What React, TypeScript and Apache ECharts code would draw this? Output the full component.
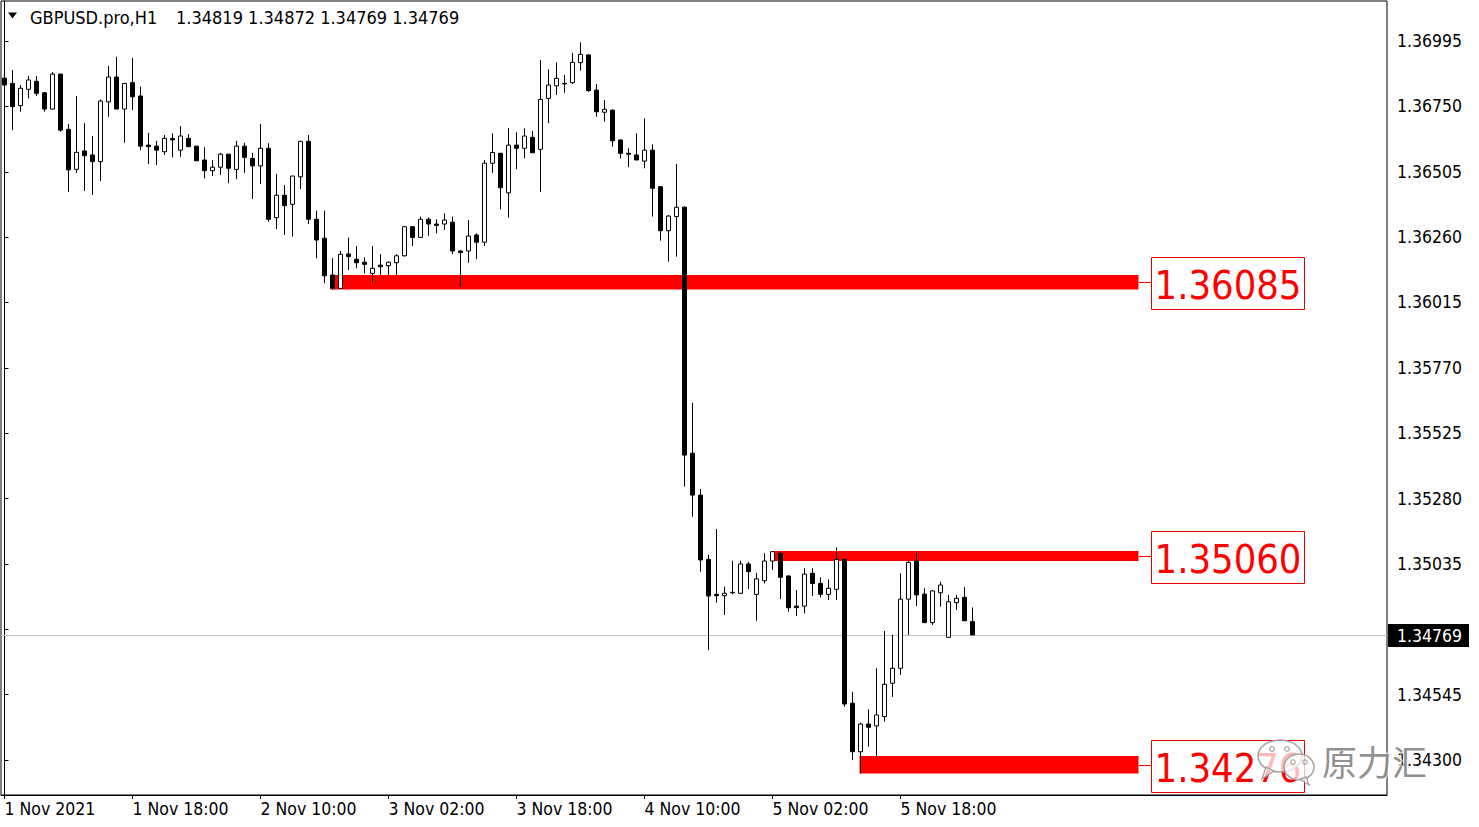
import React, { useEffect, useRef } from "react";
import * as echarts from "echarts";

const symbolName = "GBPUSD.pro,H1";

const opens = [
  1.36856, 1.36836, 1.36753, 1.36814, 1.36844, 1.36801, 1.36740, 1.36871, 1.36664, 1.36514,
  1.36583, 1.36568, 1.36543, 1.36767, 1.36860, 1.36740, 1.36839, 1.36789, 1.36605, 1.36601,
  1.36580, 1.36630, 1.36586, 1.36630, 1.36601, 1.36549, 1.36509, 1.36522, 1.36571, 1.36514,
  1.36601, 1.36555, 1.36527, 1.36593, 1.36333, 1.36417, 1.36383, 1.36486, 1.36619, 1.36327,
  1.36256, 1.36118, 1.36068, 1.36197, 1.36177, 1.36166, 1.36124, 1.36155, 1.36153, 1.36164,
  1.36190, 1.36299, 1.36259, 1.36327, 1.36309, 1.36309, 1.36316, 1.36208, 1.36208, 1.36268,
  1.36241, 1.36537, 1.36574, 1.36426, 1.36605, 1.36593, 1.36634, 1.36589, 1.36780, 1.36827,
  1.36836, 1.36839, 1.36914, 1.36943, 1.36811, 1.36728, 1.36736, 1.36624, 1.36574, 1.36568,
  1.36545, 1.36586, 1.36449, 1.36284, 1.36337, 1.36372, 1.35450, 1.35293, 1.35052, 1.34921,
  1.34916, 1.34927, 1.34925, 1.35035, 1.34921, 1.34972, 1.35046, 1.35075, 1.34990, 1.34877,
  1.34877, 1.35000, 1.34962, 1.34921, 1.34940, 1.35052, 1.34513, 1.34331, 1.34435, 1.34428,
  1.34463, 1.34588, 1.34644, 1.34903, 1.35047, 1.34922, 1.34815, 1.34927, 1.34760, 1.34890,
  1.34910, 1.34819,
];

const highs = [
  1.36886, 1.36886, 1.36830, 1.36864, 1.36864, 1.36803, 1.36879, 1.36873, 1.36684, 1.36789,
  1.36687, 1.36639, 1.36776, 1.36902, 1.36936, 1.36838, 1.36932, 1.36824, 1.36651, 1.36621,
  1.36643, 1.36649, 1.36676, 1.36646, 1.36601, 1.36597, 1.36549, 1.36576, 1.36571, 1.36621,
  1.36614, 1.36576, 1.36684, 1.36612, 1.36497, 1.36455, 1.36489, 1.36621, 1.36643, 1.36359,
  1.36359, 1.36181, 1.36208, 1.36258, 1.36227, 1.36184, 1.36227, 1.36196, 1.36168, 1.36196,
  1.36301, 1.36301, 1.36337, 1.36334, 1.36327, 1.36349, 1.36337, 1.36210, 1.36324, 1.36274,
  1.36549, 1.36649, 1.36576, 1.36668, 1.36653, 1.36668, 1.36658, 1.36924, 1.36889, 1.36915,
  1.36868, 1.36951, 1.36990, 1.36945, 1.36834, 1.36774, 1.36738, 1.36626, 1.36593, 1.36649,
  1.36705, 1.36608, 1.36451, 1.36343, 1.36534, 1.36375, 1.35639, 1.35316, 1.35069, 1.35166,
  1.34950, 1.35047, 1.35047, 1.35043, 1.35002, 1.35075, 1.35083, 1.35081, 1.34992, 1.34937,
  1.35019, 1.35019, 1.34985, 1.34977, 1.35097, 1.35054, 1.34556, 1.34440, 1.34490, 1.34644,
  1.34784, 1.34769, 1.35000, 1.35047, 1.35077, 1.34944, 1.34937, 1.34968, 1.34919, 1.34919,
  1.34948, 1.34872,
];

const lows = [
  1.36811, 1.36661, 1.36730, 1.36780, 1.36789, 1.36730, 1.36738, 1.36655, 1.36430, 1.36501,
  1.36433, 1.36418, 1.36470, 1.36711, 1.36740, 1.36614, 1.36736, 1.36586, 1.36534, 1.36530,
  1.36568, 1.36559, 1.36561, 1.36599, 1.36546, 1.36480, 1.36489, 1.36493, 1.36462, 1.36477,
  1.36501, 1.36403, 1.36459, 1.36318, 1.36290, 1.36268, 1.36262, 1.36440, 1.36309, 1.36181,
  1.36087, 1.36062, 1.36066, 1.36137, 1.36143, 1.36124, 1.36089, 1.36118, 1.36118, 1.36118,
  1.36187, 1.36227, 1.36258, 1.36265, 1.36274, 1.36287, 1.36196, 1.36074, 1.36164, 1.36177,
  1.36227, 1.36501, 1.36364, 1.36333, 1.36514, 1.36555, 1.36576, 1.36430, 1.36687, 1.36793,
  1.36801, 1.36834, 1.36884, 1.36805, 1.36711, 1.36693, 1.36599, 1.36555, 1.36522, 1.36549,
  1.36518, 1.36337, 1.36247, 1.36168, 1.36187, 1.35325, 1.35212, 1.35006, 1.34712, 1.34890,
  1.34844, 1.34921, 1.34923, 1.34941, 1.34822, 1.34962, 1.35012, 1.34903, 1.34856, 1.34840,
  1.34850, 1.34915, 1.34909, 1.34900, 1.34900, 1.34500, 1.34300, 1.34250, 1.34350, 1.34307,
  1.34444, 1.34537, 1.34619, 1.34769, 1.34877, 1.34815, 1.34806, 1.34875, 1.34758, 1.34862,
  1.34822, 1.34769,
];

const closes = [
  1.36830, 1.36749, 1.36818, 1.36849, 1.36799, 1.36740, 1.36871, 1.36661, 1.36512, 1.36578,
  1.36565, 1.36543, 1.36770, 1.36860, 1.36740, 1.36836, 1.36786, 1.36601, 1.36599, 1.36586,
  1.36630, 1.36624, 1.36639, 1.36599, 1.36546, 1.36509, 1.36522, 1.36571, 1.36518, 1.36601,
  1.36559, 1.36527, 1.36593, 1.36327, 1.36417, 1.36378, 1.36489, 1.36619, 1.36327, 1.36249,
  1.36115, 1.36068, 1.36196, 1.36187, 1.36164, 1.36158, 1.36143, 1.36149, 1.36166, 1.36190,
  1.36299, 1.36259, 1.36327, 1.36309, 1.36304, 1.36324, 1.36208, 1.36202, 1.36264, 1.36241,
  1.36537, 1.36577, 1.36445, 1.36605, 1.36593, 1.36639, 1.36576, 1.36776, 1.36830, 1.36855,
  1.36834, 1.36915, 1.36945, 1.36809, 1.36730, 1.36739, 1.36621, 1.36574, 1.36571, 1.36549,
  1.36586, 1.36443, 1.36284, 1.36339, 1.36372, 1.35443, 1.35293, 1.35050, 1.34915, 1.34916,
  1.34925, 1.34929, 1.35035, 1.35006, 1.34979, 1.35046, 1.35081, 1.34985, 1.34871, 1.34871,
  1.34997, 1.34962, 1.34921, 1.34944, 1.35052, 1.34510, 1.34331, 1.34435, 1.34423, 1.34469,
  1.34584, 1.34644, 1.34903, 1.35041, 1.34919, 1.34815, 1.34934, 1.34956, 1.34893, 1.34906,
  1.34822, 1.34769,
];

// x axis: bar index of each time label
const timeTickBars = [0, 16, 32, 48, 64, 80, 96, 112];
const timeTickLabels = [
  "1 Nov 2021",
  "1 Nov 18:00",
  "2 Nov 10:00",
  "3 Nov 02:00",
  "3 Nov 18:00",
  "4 Nov 10:00",
  "5 Nov 02:00",
  "5 Nov 18:00",
];

const priceTicks = [
  1.36995, 1.3675, 1.36505, 1.3626, 1.36015, 1.3577, 1.35525, 1.3528, 1.35035, 1.3479, 1.34545, 1.343,
];

// horizontal levels (red zones)
const levelValues = [1.36085, 1.3506, 1.34276];
const levelTops = [1.36118, 1.35084, 1.34315];
const levelBottoms = [1.36064, 1.35046, 1.3425];
const levelStartBars = [40.75, 96.125, 106.875];
const levelEndBar = 141.75;

const watermarkText = "原力汇";

const FONT = "'DejaVu Sans Condensed', 'Liberation Sans', sans-serif";

export default function App() {
  const ref = useRef<HTMLDivElement>(null);

  useEffect(() => {
    if (!ref.current) return;
    const chart = echarts.init(ref.current, null, { renderer: "svg" });
    const n = opens.length;
    const candles = opens.map((o, i) => [i, o, closes[i], lows[i], highs[i]]);
    const lastClose = closes[n - 1];
    const bands = levelValues.map((v, i) => [levelStartBars[i], levelEndBar, levelTops[i], levelBottoms[i], v]);
    // the label of the tick hidden under the current-price box is not shown
    const priceLabelTicks = priceTicks.filter((v) => Math.abs(v - lastClose) > 0.0005);

    const option: any = {
      animation: false,
      backgroundColor: "#ffffff",
      grid: {
        left: 1,
        top: 1,
        width: 1386,
        height: 794,
        show: true,
        borderColor: "#000000",
        borderWidth: 1,
        backgroundColor: "#ffffff",
      },
      xAxis: {
        type: "value",
        min: -0.4375,
        max: 172.8125,
        splitLine: { show: false },
        axisLine: { show: true, lineStyle: { color: "#000000" } },
        axisTick: { show: true, customValues: timeTickBars, length: 4, lineStyle: { color: "#000000" } },
        axisLabel: {
          customValues: timeTickBars,
          formatter: (v: number) => {
            const k = timeTickBars.indexOf(Math.round(v));
            return k >= 0 ? timeTickLabels[k] : "";
          },
          align: "left",
          margin: 5,
          color: "#000000",
          fontFamily: FONT,
          fontSize: 17.5,
        },
      },
      yAxis: {
        type: "value",
        position: "right",
        min: 1.34169,
        max: 1.37145,
        splitLine: { show: false },
        axisLine: { show: true, lineStyle: { color: "#000000" } },
        axisTick: { show: true, customValues: priceTicks, length: 4, lineStyle: { color: "#000000" } },
        axisLabel: {
          customValues: priceLabelTicks,
          formatter: (v: number) => v.toFixed(5),
          margin: 10,
          color: "#000000",
          fontFamily: FONT,
          fontSize: 17.5,
        },
      },
      series: [
        {
          type: "custom",
          z: 1,
          clip: false,
          silent: true,
          data: bands,
          encode: { x: [0, 1], y: [2, 3] },
          renderItem: (params: any, api: any) => {
            const p0 = api.coord([api.value(0), api.value(2)]);
            const p1 = api.coord([api.value(1), api.value(3)]);
            const level = api.value(4) as number;
            const cy = Math.round((p0[1] + p1[1]) / 2) + 0.5;
            const endX = Math.round(p1[0]);
            const boxX = endX + 12.5;
            const boxW = 153;
            const boxH = 52;
            return {
              type: "group",
              children: [
                {
                  type: "rect",
                  shape: { x: p0[0], y: p0[1], width: p1[0] - p0[0], height: p1[1] - p0[1] },
                  style: { fill: "#ff0000" },
                },
                {
                  type: "line",
                  shape: { x1: endX, y1: cy, x2: boxX, y2: cy },
                  style: { stroke: "#ff0000", lineWidth: 1 },
                },
                {
                  type: "rect",
                  shape: { x: boxX, y: Math.round(cy - boxH / 2) + 0.5, width: boxW, height: boxH },
                  style: { fill: "#ffffff", stroke: "#e60000", lineWidth: 1 },
                },
                {
                  type: "text",
                  x: boxX + boxW / 2,
                  y: cy + 2,
                  style: {
                    text: level.toFixed(5),
                    fill: "#ff0000",
                    font: `39.5px ${FONT}`,
                    align: "center",
                    verticalAlign: "middle",
                  },
                },
              ],
            };
          },
        },
        {
          type: "custom",
          z: 2,
          silent: true,
          data: [[0, lastClose]],
          encode: { x: 0, y: 1 },
          renderItem: (params: any, api: any) => {
            const cs = params.coordSys;
            const y = Math.round(api.coord([api.value(0), api.value(1)])[1]) + 0.5;
            return {
              type: "line",
              shape: { x1: cs.x, y1: y, x2: cs.x + cs.width, y2: y },
              style: { stroke: "#c0c0c0", lineWidth: 1 },
            };
          },
        },
        {
          type: "candlestick",
          z: 3,
          barWidth: 4,
          data: candles,
          itemStyle: {
            color: "#ffffff",
            color0: "#000000",
            borderColor: "#000000",
            borderColor0: "#000000",
            borderColorDoji: "#000000",
            borderWidth: 1,
          },
        },
      ],
    };
    chart.setOption(option);

    const py = chart.convertToPixel({ yAxisIndex: 0 }, lastClose) as number;
    const lbl = (v: number) => v.toFixed(5);
    const wmStroke = "rgba(150,150,150,0.85)";
    chart.setOption({
      graphic: [
        {
          type: "polygon",
          z: 100,
          shape: { points: [[8, 12.5], [17, 12.5], [12.5, 18.5]] },
          style: { fill: "#000000" },
        },
        {
          type: "text",
          z: 100,
          x: 30,
          y: 17,
          style: { text: symbolName, fill: "#000000", font: `18px ${FONT}`, verticalAlign: "middle" },
        },
        {
          type: "text",
          z: 100,
          x: 176,
          y: 17,
          style: {
            text: `${lbl(opens[n - 1])} ${lbl(highs[n - 1])} ${lbl(lows[n - 1])} ${lbl(closes[n - 1])}`,
            fill: "#000000",
            font: `18px ${FONT}`,
            verticalAlign: "middle",
          },
        },
        {
          type: "rect",
          z: 100,
          shape: { x: 1388, y: Math.round(py) - 11, width: 81, height: 23 },
          style: { fill: "#000000" },
        },
        {
          type: "text",
          z: 101,
          x: 1397,
          y: Math.round(py) + 0.5,
          style: { text: lbl(lastClose), fill: "#ffffff", font: `17.5px ${FONT}`, verticalAlign: "middle" },
        },
        // watermark: WeChat-like logo + text
        {
          type: "ellipse",
          z: 110,
          shape: { cx: 1280, cy: 756, rx: 22, ry: 16 },
          style: { fill: "rgba(255,255,255,0.72)", stroke: wmStroke, lineWidth: 1.6 },
        },
        {
          type: "polygon",
          z: 110,
          shape: { points: [[1266, 767], [1262, 779], [1274, 771]] },
          style: { fill: "rgba(255,255,255,0.72)", stroke: wmStroke, lineWidth: 1.4 },
        },
        {
          type: "ellipse",
          z: 111,
          shape: { cx: 1299, cy: 767, rx: 15, ry: 13 },
          style: { fill: "rgba(255,255,255,0.72)", stroke: wmStroke, lineWidth: 1.6 },
        },
        {
          type: "polygon",
          z: 111,
          shape: { points: [[1306, 777], [1309, 785], [1300, 779]] },
          style: { fill: "rgba(255,255,255,0.72)", stroke: wmStroke, lineWidth: 1.4 },
        },
        { type: "circle", z: 112, shape: { cx: 1272, cy: 749, r: 2.4 }, style: { fill: "none", stroke: wmStroke, lineWidth: 1.2 } },
        { type: "circle", z: 112, shape: { cx: 1287, cy: 749, r: 2.4 }, style: { fill: "none", stroke: wmStroke, lineWidth: 1.2 } },
        { type: "circle", z: 112, shape: { cx: 1293, cy: 762, r: 2.2 }, style: { fill: "none", stroke: wmStroke, lineWidth: 1.2 } },
        { type: "circle", z: 112, shape: { cx: 1305, cy: 762, r: 2.2 }, style: { fill: "none", stroke: wmStroke, lineWidth: 1.2 } },
        {
          type: "text",
          z: 112,
          x: 1322,
          y: 760,
          style: {
            text: watermarkText,
            fill: "rgba(125,125,125,0.85)",
            font: `35px 'Noto Sans CJK SC', sans-serif`,
            verticalAlign: "middle",
            stroke: "rgba(255,255,255,0.7)",
            lineWidth: 2.5,
          },
        },
      ],
    });

    return () => chart.dispose();
  }, []);

  return (
    <div
      ref={ref}
      style={{ position: "absolute", left: 0, top: 0, width: 1479, height: 827 }}
    />
  );
}
